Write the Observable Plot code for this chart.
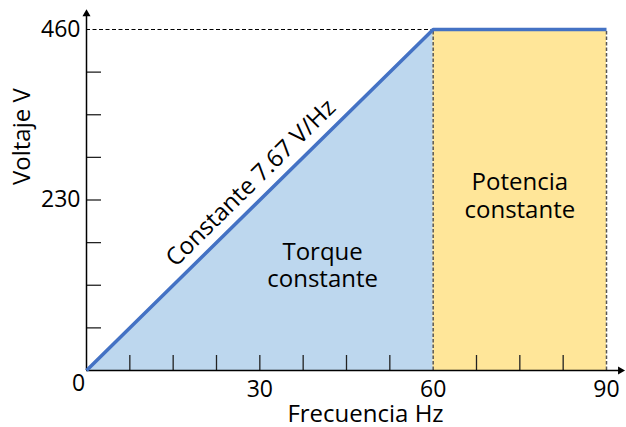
<!DOCTYPE html>
<html><head><meta charset="utf-8">
<script src="https://cdn.jsdelivr.net/npm/d3@7"></script>
<script src="https://cdn.jsdelivr.net/npm/@observablehq/plot@0.6"></script>
<style>
html,body{margin:0;padding:0;background:#fff;}
#chart svg{display:block;}
</style></head><body><div id="chart"></div>
<script>
// ---- data ----
const freq = [0, 60, 90];
const volt = [0, 460, 460];
const xTickLabels = [30, 60, 90];
const yTickLabels = [230, 460];
const originLabel = ["0"];
const xMinorTicks = [7.5, 15, 22.5, 30, 37.5, 45, 52.5, 67.5, 75, 82.5];
const yMinorTicks = [57.5, 115, 172.5, 230, 287.5, 345, 402.5];
const regionNames = ["Torque\nconstante", "Potencia\nconstante"];
const slopeLabel = ["Constante 7.67 V/Hz"];
const xTitle = ["Frecuencia Hz"];
const yTitle = ["Voltaje V"];
const xAxisEnd = 92.4;
const yAxisEnd = 481;

// ---- layout ----
const W = 626, H = 427, mL = 86, mR = 20, mT = 29, mB = 57;
const FONT = "'Open Sans', 'Noto Sans', sans-serif";
const pts = freq.map((f, i) => ({f, v: volt[i]}));
const ramp = pts.slice(0, 2);
const flat = pts.slice(1);
const kx = (W - mL - mR) / (freq[2] - freq[0]);
const ky = (H - mT - mB) / volt[1];
const angle = -Math.atan2(volt[1] * ky, freq[1] * kx) * 180 / Math.PI;

const torquePos = [{x: d3.mean([ramp[0].f, ramp[1].f, ramp[1].f]), y: d3.mean([ramp[0].v, ramp[0].v, ramp[1].v]), t: regionNames[0]}];
const potPos = [{x: d3.mean([flat[0].f, flat[1].f]), y: flat[0].v / 2, t: regionNames[1]}];
const slopePos = [{x: d3.mean([ramp[0].f, ramp[1].f]), y: d3.mean([ramp[0].v, ramp[1].v]), t: slopeLabel[0]}];

const chart = Plot.plot({
  width: W, height: H,
  marginLeft: mL, marginRight: mR, marginTop: mT, marginBottom: mB,
  x: {domain: [freq[0], freq[2]]},
  y: {domain: [0, volt[1]]},
  style: {fontFamily: FONT, color: "#000", background: "#fff", overflow: "visible"},
  marks: [
    Plot.areaY(ramp, {x: "f", y: "v", fill: "#BDD7EE"}),
    Plot.areaY(flat, {x: "f", y: "v", fill: "#FFE699"}),
    Plot.ruleY([volt[1]], {y: d => d, x1: freq[0], x2: freq[1], stroke: "#000", strokeWidth: 1, strokeDasharray: "4,2.5"}),
    Plot.ruleX(freq.slice(1), {x: d => d, y1: 0, y2: volt[1], stroke: "#555", strokeWidth: 1.5, strokeDasharray: "3.5,2"}),
    Plot.axisX(xMinorTicks, {tickSize: -15, tickFormat: () => "", label: null, stroke: "#222", strokeWidth: 1.3}),
    Plot.axisY(yMinorTicks, {tickSize: -15, tickFormat: () => "", label: null, stroke: "#222", strokeWidth: 1.3}),
    Plot.ruleY([0], {y: d => d, x1: 0, x2: xAxisEnd, stroke: "#000", strokeWidth: 1.5}),
    Plot.ruleX([0], {x: d => d, y1: 0, y2: yAxisEnd, stroke: "#000", strokeWidth: 1.5}),
    Plot.dot([xAxisEnd], {x: d => d, y: 0, symbol: "triangle", r: 3, fill: "#000", stroke: null, rotate: 90}),
    Plot.dot([yAxisEnd], {x: 0, y: d => d, symbol: "triangle", r: 3, fill: "#000", stroke: null}),
    Plot.line(pts, {x: "f", y: "v", stroke: "#4472C4", strokeWidth: 3.5, strokeLinecap: "butt"}),
    Plot.axisX(xTickLabels, {tickSize: 0, tickPadding: 10, fontSize: 23, label: null}),
    Plot.axisY(yTickLabels, {tickSize: 0, tickPadding: 6, fontSize: 23, label: null}),
    Plot.text(originLabel, {x: 0, y: 0, text: d => d, fontSize: 23, dx: -8, dy: 13, lineAnchor: "middle"}),
    Plot.text(xTitle, {frameAnchor: "bottom", text: d => d, fontSize: 24, dx: 19, dy: 44, lineAnchor: "middle"}),
    Plot.text(yTitle, {frameAnchor: "left", text: d => d, fontSize: 24, rotate: -90, dx: -64, dy: -15, lineAnchor: "middle"}),
    Plot.text(torquePos, {x: "x", y: "y", text: "t", fontSize: 24, lineHeight: 1.15, dx: 5, dy: 8, lineAnchor: "middle"}),
    Plot.text(potPos, {x: "x", y: "y", text: "t", fontSize: 24, lineHeight: 1.15, dx: 0, dy: -5, lineAnchor: "middle"}),
    Plot.text(slopePos, {x: "x", y: "y", text: "t", fontSize: 24, rotate: angle, dx: -9, dy: -17, lineAnchor: "middle"})
  ]
});
document.getElementById("chart").appendChild(chart);
</script>
</body></html>
